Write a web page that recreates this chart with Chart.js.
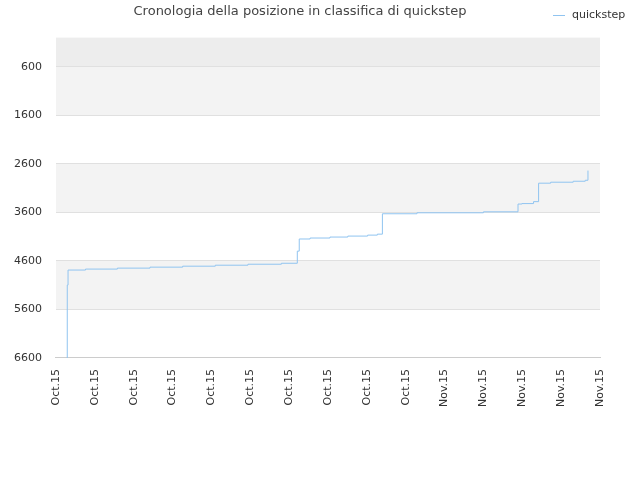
<!DOCTYPE html>
<html><head><meta charset="utf-8">
<script src="https://cdn.jsdelivr.net/npm/chart.js@4/dist/chart.umd.min.js"></script>
<style>body{margin:0;background:#fff}#wrap{width:640px;height:480px}</style>
</head><body><div id="wrap"><canvas id="c"></canvas></div>
<script>
const TICK_LABELS = ['Oct.15','Oct.15','Oct.15','Oct.15','Oct.15','Oct.15','Oct.15','Oct.15','Oct.15','Oct.15','Nov.15','Nov.15','Nov.15','Nov.15','Nov.15'];
const Y_TICKS = [600, 1600, 2600, 3600, 4600, 5600, 6600];
// posizione in unità di tick (x) e posizione in classifica (y)
const POS_X = [0.28, 0.29, 0.31, 0.76, 1.58, 2.42, 3.26, 4.10, 4.94, 5.80, 6.21, 6.26, 6.54, 7.05, 7.51, 8.02, 8.27, 8.40, 9.29, 11.0, 11.89, 11.99, 12.29, 12.42, 12.73, 13.31, 13.62, 13.69];
const POS_Y = [6600, 5100, 4790, 4770, 4750, 4730, 4710, 4690, 4670, 4650, 4400, 4150, 4130, 4110, 4090, 4070, 4050, 3630, 3610, 3590, 3430, 3420, 3380, 3000, 2980, 2960, 2940, 2740];

const bands = {
  id: 'bands',
  beforeDraw(chart) {
    const { ctx, chartArea: a, scales: { y } } = chart;
    const fills = [[0, 600, '#ededed'], [600, 1600, '#f3f3f3'], [2600, 3600, '#f3f3f3'], [4600, 5600, '#f3f3f3']];
    ctx.save();
    fills.forEach(([v0, v1, c]) => {
      const p0 = y.getPixelForValue(v0), p1 = y.getPixelForValue(v1);
      ctx.fillStyle = c;
      ctx.fillRect(a.left, Math.min(p0, p1), a.right - a.left, Math.abs(p1 - p0));
    });
    ctx.restore();
  }
};

// legenda in alto a destra, sulla riga del titolo
const topLegend = {
  id: 'topLegend',
  afterDraw(chart) {
    const ctx = chart.ctx;
    ctx.save();
    ctx.strokeStyle = '#90c4f0';
    ctx.lineWidth = 1;
    ctx.beginPath(); ctx.moveTo(553, 15.5); ctx.lineTo(565, 15.5); ctx.stroke();
    ctx.fillStyle = '#333';
    ctx.font = '11px "DejaVu Sans"';
    ctx.textBaseline = 'middle';
    ctx.fillText(chart.data.datasets[0].label, 572, 15);
    ctx.restore();
  }
};

new Chart(document.getElementById('c'), {
  type: 'line',
  data: {
    datasets: [{
      label: 'quickstep',
      data: POS_X.map((x, i) => ({ x, y: POS_Y[i] })),
      borderColor: '#90c4f0',
      borderWidth: 1,
      pointRadius: 0,
      stepped: 'before',
      fill: false
    }]
  },
  options: {
    responsive: true,
    maintainAspectRatio: false,
    animation: false,
    layout: { padding: { top: 0, right: 40, bottom: 70, left: 0 } },
    plugins: {
      title: { display: true, text: 'Cronologia della posizione in classifica di quickstep', color: '#444', font: { family: 'DejaVu Sans', size: 13, weight: 'normal' }, padding: { top: 4, bottom: 18 } },
      legend: { display: false },
      tooltip: { enabled: false }
    },
    scales: {
      x: {
        type: 'linear', min: 0, max: 14,
        afterBuildTicks: s => { s.ticks = TICK_LABELS.map((_, i) => ({ value: i })); },
        ticks: { color: '#333', maxRotation: 90, minRotation: 90, font: { family: 'DejaVu Sans', size: 11 }, callback: (v) => TICK_LABELS[v] },
        grid: { display: false },
        border: { color: '#ccc' }
      },
      y: {
        reverse: true, min: 0, max: 6600,
        afterBuildTicks: s => { s.ticks = Y_TICKS.map(v => ({ value: v })); },
        ticks: { color: '#333', font: { family: 'DejaVu Sans', size: 11 }, padding: 14, callback: v => String(v) },
        grid: { color: '#e0e0e0', drawTicks: false },
        border: { display: false }
      }
    }
  },
  plugins: [bands, topLegend]
});
</script></body></html>
